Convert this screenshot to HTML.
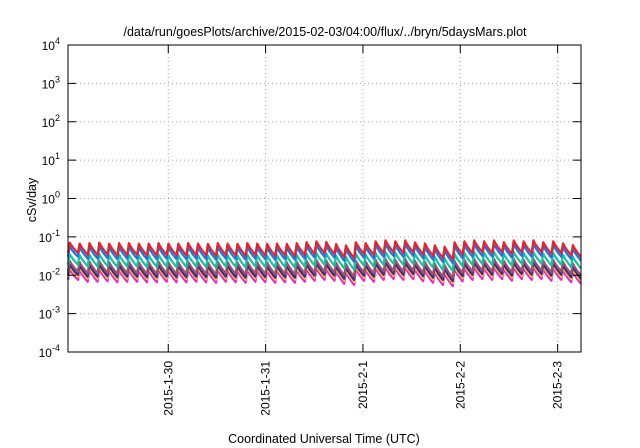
<!DOCTYPE html>
<html><head><meta charset="utf-8"><style>
body{margin:0;background:#fff;}
svg{display:block;font-family:"Liberation Sans",sans-serif;}
</style></head><body>
<svg id="chart" width="640" height="448" xmlns="http://www.w3.org/2000/svg">
<text x="325" y="36" font-size="12.5" text-anchor="middle">/data/run/goesPlots/archive/2015-02-03/04:00/flux/../bryn/5daysMars.plot</text>
<text transform="translate(36,200) rotate(-90)" font-size="12.5" text-anchor="middle">cSv/day</text>
<text x="324" y="443" font-size="12.5" text-anchor="middle">Coordinated Universal Time (UTC)</text>
<g id="grid"></g><g id="series"></g><g id="axes"></g>
</svg>
<script>
// data
const yTickExps=[-4,-3,-2,-1,0,1,2,3,4];
const xTickLabels=["2015-1-30","2015-1-31","2015-2-1","2015-2-2","2015-2-3"];
const xTickDays=[1.03,2.03,3.03,4.03,5.03]; // days from plot start
const toothPeaks=[0.085,0.082,0.085,0.088,0.082,0.085,0.085,0.082,0.083,0.085,0.082,0.083,0.085,0.083,0.082,0.085,0.083,0.082,0.085,0.083,0.082,0.083,0.082,0.085,0.09,0.095,0.092,0.082,0.076,0.09,0.085,0.095,0.1,0.095,0.1,0.09,0.085,0.076,0.07,0.09,0.095,0.1,0.095,0.1,0.09,0.1,0.095,0.1,0.09,0.095,0.085,0.076];
const toothTroughs=[0.038,0.034,0.034,0.035,0.033,0.034,0.034,0.033,0.033,0.034,0.033,0.033,0.034,0.033,0.032,0.034,0.033,0.032,0.034,0.033,0.032,0.033,0.032,0.034,0.036,0.038,0.036,0.03,0.028,0.036,0.034,0.038,0.04,0.038,0.04,0.035,0.032,0.028,0.026,0.035,0.038,0.04,0.038,0.04,0.036,0.04,0.038,0.04,0.036,0.038,0.033,0.03];
const seriesNames=["red","blue","teal","brown","navy","yellow","magenta"];
const seriesRatios=[1.0,0.8,0.5,0.33,0.27,0.24,0.2];
const seriesColors=["#e8222a","#1a75e8","#19c0a0","#a0506a","#3a2a9a","#e8e000","#f020e0"];
const totalDays=5.27;

const L=68,R=581,T=45,B=352;
const ns="http://www.w3.org/2000/svg";
function xs(d){return L+d/totalDays*(R-L);}
function ys(v){return B-(Math.log10(v)+4)/8*(B-T);}
function mk(tag,attrs,parent){const e=document.createElementNS(ns,tag);for(const k in attrs)e.setAttribute(k,attrs[k]);parent.appendChild(e);return e;}
const grid=document.getElementById('grid'),axes=document.getElementById('axes'),ser=document.getElementById('series');
yTickExps.forEach(e=>{const y=ys(Math.pow(10,e));
 if(e>-4&&e<4){const g=mk('line',{x1:L,x2:R,y1:y,y2:y,stroke:'#aaa','stroke-dasharray':'1,3'},grid);
 
 }
 const t=mk('line',{x1:L,x2:L+8,y1:y,y2:y,stroke:'#000'},axes);
 
 
 const t2=mk('line',{x1:R-8,x2:R,y1:y,y2:y,stroke:'#000'},axes);
 
 
 const tx=mk('text',{x:L-8,y:y+5,'font-size':'12','text-anchor':'end'},axes);
 
 
 tx.innerHTML='10<tspan dy="-6" font-size="9">'+e+'</tspan>';
});
xTickDays.forEach((d,i)=>{const x=xs(d);
 const g=mk('line',{x1:x,x2:x,y1:T,y2:B,stroke:'#aaa','stroke-dasharray':'1,3'},grid);
 
 
 const t=mk('line',{x1:x,x2:x,y1:B-8,y2:B,stroke:'#000'},axes);
 
 
 const t2=mk('line',{x1:x,x2:x,y1:T,y2:T+8,stroke:'#000'},axes);
 
 
 const tx=mk('text',{transform:`translate(${x+4},${B+9}) rotate(-90)`,'font-size':'12','text-anchor':'end'},axes);
 
 
 tx.textContent=xTickLabels[i];
});
const fr=mk('rect',{x:L,y:T,width:R-L,height:B-T,fill:'none',stroke:'#000','stroke-width':1},axes);


const n=toothPeaks.length, per=totalDays/n;
for(let s=seriesNames.length-1;s>=0;s--){
 let pts=[];
 for(let i=0;i<n;i++){
  const d0=i*per, p=toothPeaks[i]*seriesRatios[s], q=toothTroughs[i]*seriesRatios[s];
  const prevQ=i>0?toothTroughs[i-1]*seriesRatios[s]:q;
  pts.push([xs(d0),ys(prevQ)]);
  for(let k=1;k<=8;k++){const f=k/8;const v=p*Math.pow(q/p,Math.pow(f,0.7));pts.push([xs(d0+per*(0.06+0.94*f)),ys(v)]);}
 }
 const pl=mk('polyline',{points:pts.map(p=>p[0].toFixed(1)+','+p[1].toFixed(1)).join(' '),fill:'none',stroke:seriesColors[s],'stroke-width':2.2,'stroke-linejoin':'round'},ser);
 
 
}
</script>
</body></html>
